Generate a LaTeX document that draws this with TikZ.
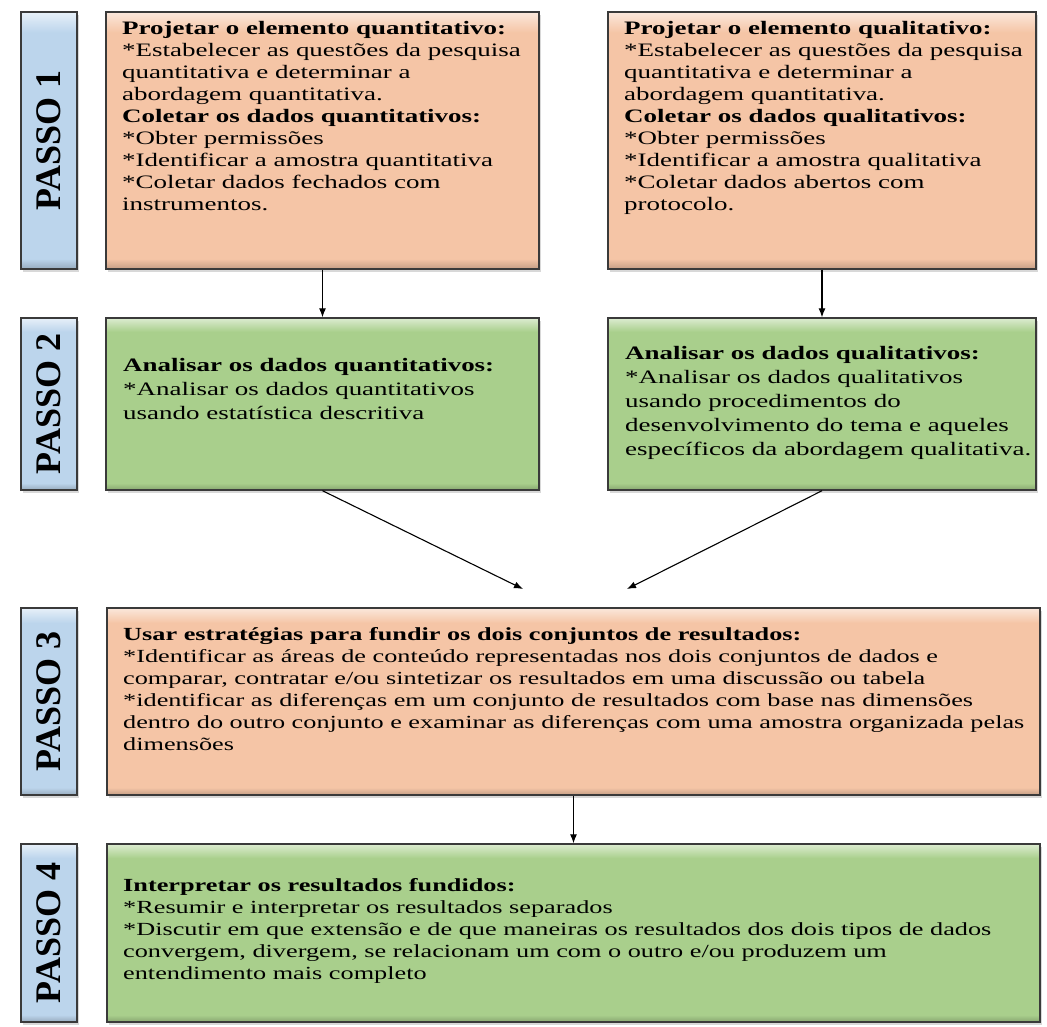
\documentclass[tikz,border=0pt]{standalone}
\usepackage{fontspec}
\setmainfont[FakeStretch=1.42]{Liberation Serif}
\newfontfamily\passofont{Liberation Serif}
\usetikzlibrary{arrows.meta,shadows,positioning}

\definecolor{peach}{HTML}{F5C5A6}
\definecolor{leaf}{HTML}{A9CF8C}
\definecolor{sky}{HTML}{BCD5EC}
\definecolor{rim}{HTML}{3A3A3A}

% bevel look: darker foot, light top band
\pgfdeclareverticalshading{peachbevel}{100bp}{color(0bp)=(peach!80!black); color(25bp)=(peach!80!black); color(27bp)=(peach); color(71bp)=(peach); color(75bp)=(peach!40!white); color(100bp)=(peach!40!white)}
\pgfdeclareverticalshading{leafbevel}{100bp}{color(0bp)=(leaf!80!black); color(25bp)=(leaf!80!black); color(27bp)=(leaf); color(71bp)=(leaf); color(75bp)=(leaf!40!white); color(100bp)=(leaf!40!white)}
\pgfdeclareverticalshading{skybevel}{100bp}{color(0bp)=(sky!80!black); color(25bp)=(sky!80!black); color(27bp)=(sky); color(71bp)=(sky); color(75bp)=(sky!35!white); color(100bp)=(sky!35!white)}

\tikzset{stepbox/.style={draw=rim,line width=1.4pt,inner sep=0pt,drop shadow={shadow xshift=1.5pt,shadow yshift=-2.5pt,opacity=.3}},
  peachbox/.style={stepbox,shading=peachbevel},
  leafbox/.style={stepbox,shading=leafbevel},
  passo/.style={stepbox,shading=skybevel,minimum width=56pt,font=\passofont\bfseries\fontsize{36}{36}\selectfont},
  body/.style={inner sep=0pt,anchor=north west,align=left},
  arr/.style={-{Latex[length=9pt,width=7pt]},line width=1.1pt}}

\begin{document}
\begin{tikzpicture}[x=1pt,y=-1pt]
  \useasboundingbox[fill=white] (0,0) rectangle (1047,1026);
  % step labels
  \node[passo,minimum height=257pt] (p1) at (49,140.5) {\rotatebox{90}{PASSO 1}};
  \node[passo,minimum height=172pt] (p2) at (49,404) {\rotatebox{90}{PASSO 2}};
  \node[passo,minimum height=187pt] (p3) at (49,701.5) {\rotatebox{90}{PASSO 3}};
  \node[passo,minimum height=178pt] (p4) at (49,933) {\rotatebox{90}{PASSO 4}};
  % boxes
  \node[peachbox,minimum width=433pt,minimum height=257pt] (b1q) at (322.5,140.5) {};
  \node[peachbox,minimum width=428pt,minimum height=257pt] (b1l) at (822,140.5) {};
  \node[leafbox,minimum width=433pt,minimum height=172pt] (b2q) at (322.5,404) {};
  \node[leafbox,minimum width=428pt,minimum height=172pt] (b2l) at (822,404) {};
  \node[peachbox,minimum width=933pt,minimum height=187pt] (b3) at (573.5,701.5) {};
  \node[leafbox,minimum width=933pt,minimum height=178pt] (b4) at (573.5,933) {};
  % texts
  \node[body,font=\fontsize{19}{22}\selectfont] (t1q) at (122,21) {\textbf{Projetar o elemento quantitativo:}\\
    *Estabelecer as questões da pesquisa\\ quantitativa e determinar a\\ abordagem quantitativa.\\
    \textbf{Coletar os dados quantitativos:}\\ *Obter permissões\\ *Identificar a amostra quantitativa\\
    *Coletar dados fechados com\\ instrumentos.};
  \node[body,font=\fontsize{19}{22}\selectfont] (t1l) at (624,21) {\textbf{Projetar o elemento qualitativo:}\\
    *Estabelecer as questões da pesquisa\\ quantitativa e determinar a\\ abordagem quantitativa.\\
    \textbf{Coletar os dados qualitativos:}\\ *Obter permissões\\ *Identificar a amostra qualitativa\\
    *Coletar dados abertos com\\ protocolo.};
  \node[body,font=\fontsize{19}{24}\selectfont] (t2q) at (123,358) {\textbf{Analisar os dados quantitativos:}\\
    *Analisar os dados quantitativos\\ usando estatística descritiva};
  \node[body,font=\fontsize{19}{24}\selectfont] (t2l) at (625,346) {\textbf{Analisar os dados qualitativos:}\\
    *Analisar os dados qualitativos\\ usando procedimentos do\\ desenvolvimento do tema e aqueles\\
    específicos da abordagem qualitativa.};
  \node[body,font=\fontsize{18.5}{22}\selectfont] (t3) at (123,627) {\textbf{Usar estratégias para fundir os dois conjuntos de resultados:}\\
    *Identificar as áreas de conteúdo representadas nos dois conjuntos de dados e\\
    comparar, contratar e/ou sintetizar os resultados em uma discussão ou tabela\\
    *identificar as diferenças em um conjunto de resultados com base nas dimensões\\
    dentro do outro conjunto e examinar as diferenças com uma amostra organizada pelas\\
    dimensões};
  \node[body,font=\fontsize{18.5}{22}\selectfont] (t4) at (123,878) {\textbf{Interpretar os resultados fundidos:}\\
    *Resumir e interpretar os resultados separados\\
    *Discutir em que extensão e de que maneiras os resultados dos dois tipos de dados\\
    convergem, divergem, se relacionam um com o outro e/ou produzem um\\
    entendimento mais completo};
  % connectors
  \coordinate (m1) at (523,589);
  \coordinate (m2) at (627,589);
  \draw[arr] (b1q) -- (b2q);
  \draw[arr] (b1l.south) -- (b1l.south |- b2l.north);
  \draw[arr] (b2q.south) -- (m1);
  \draw[arr] (b2l.south) -- (m2);
  \draw[arr] (b3) -- (b4);
\end{tikzpicture}
\end{document}
